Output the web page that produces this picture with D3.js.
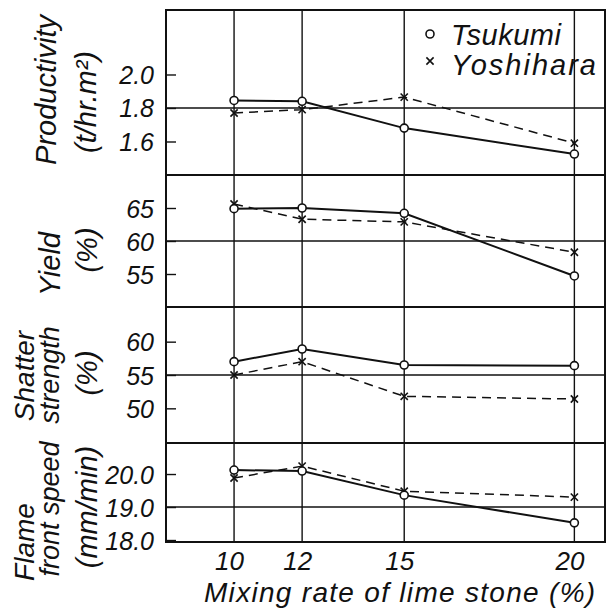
<!DOCTYPE html>
<html lang="en">
<head>
<meta charset="UTF-8">
<title>Mixing rate of lime stone</title>
<script src="https://d3js.org/d3.v7.min.js"></script>
<style>
  body { margin: 0; background: #fff; }
  svg text { font-family: "Liberation Sans", Arial, sans-serif; font-style: italic; fill: #111; }
</style>
</head>
<body>
<div id="chart"></div>
<script>
// ---- data ----
const mixingRate = [10, 12, 15, 20];
const xTicks = [10, 12, 15, 20];

const productivityTsukumi = [1.845, 1.84, 1.68, 1.525];
const productivityYoshihara = [1.77, 1.79, 1.865, 1.59];
const yieldTsukumi = [64.9, 65.0, 64.2, 54.7];
const yieldYoshihara = [65.6, 63.3, 62.9, 58.3];
const shatterTsukumi = [57.0, 58.9, 56.5, 56.4];
const shatterYoshihara = [55.0, 57.0, 51.8, 51.4];
const flameTsukumi = [20.12, 20.09, 19.36, 18.52];
const flameYoshihara = [19.88, 20.24, 19.48, 19.30];

const productivityTicks = [1.6, 1.8, 2.0];
const yieldTicks = [55, 60, 65];
const shatterTicks = [50, 55, 60];
const flameTicks = [18.0, 19.0, 20.0];

const seriesNames = ["Tsukumi", "Yoshihara"];

// ---- layout ----
const width = 611, height = 610;
const plotLeft = 166, plotRight = 605;

const panels = [
  { top: 10, bottom: 175, domain: [1.4, 2.385], ticks: productivityTicks, grid: 1.8, fmt: d3.format(".1f"),
    t: productivityTsukumi, y: productivityYoshihara,
    titles: [{ text: "Productivity", x: 56, cy: 90 }, { text: "(t/hr.m²)", x: 96, cy: 102 }] },
  { top: 175, bottom: 307, domain: [50, 70], ticks: yieldTicks, grid: 60, fmt: d3.format("d"),
    t: yieldTsukumi, y: yieldYoshihara,
    titles: [{ text: "Yield", x: 60, cy: 264 }, { text: "(%)", x: 97, cy: 250 }] },
  { top: 307, bottom: 443, domain: [44.8, 65.2], ticks: shatterTicks, grid: 55, fmt: d3.format("d"),
    t: shatterTsukumi, y: shatterYoshihara,
    titles: [{ text: "Shatter", x: 34, cy: 376, size: 28 }, { text: "strength", x: 59, cy: 375, size: 27 }, { text: "(%)", x: 97, cy: 373 }] },
  { top: 443, bottom: 542, domain: [17.94, 20.94], ticks: flameTicks, grid: 19.0, fmt: d3.format(".1f"),
    t: flameTsukumi, y: flameYoshihara,
    titles: [{ text: "Flame", x: 34, cy: 542, size: 28 }, { text: "front speed", x: 59, cy: 509, size: 27 }, { text: "(mm/min)", x: 97, cy: 507 }] }
];

const svg = d3.select("#chart").append("svg")
  .attr("width", width).attr("height", height);
svg.append("rect").attr("width", width).attr("height", height).attr("fill", "#fff");

const x = d3.scaleLinear().domain([8, 20.9]).range([plotLeft, plotRight]);
const plotTop = panels[0].top, plotBottom = panels[panels.length - 1].bottom;

// vertical grid lines
svg.append("g").selectAll("line").data(mixingRate).join("line")
  .attr("x1", d => x(d)).attr("x2", d => x(d))
  .attr("y1", plotTop).attr("y2", plotBottom)
  .attr("stroke", "#111").attr("stroke-width", 1.4);

function crossPath(s) {
  return `M${-s},${-s}L${s},${s}M${-s},${s}L${s},${-s}`;
}

panels.forEach(p => {
  const y = d3.scaleLinear().domain(p.domain).range([p.bottom, p.top]);
  const g = svg.append("g");

  // horizontal grid line
  g.append("line")
    .attr("x1", plotLeft).attr("x2", plotRight)
    .attr("y1", y(p.grid)).attr("y2", y(p.grid))
    .attr("stroke", "#111").attr("stroke-width", 1.4);

  // left axis with inward ticks
  const ax = g.append("g").attr("transform", `translate(${plotLeft},0)`)
    .call(d3.axisLeft(y).tickValues(p.ticks).tickSize(-10).tickPadding(12).tickFormat(p.fmt));
  ax.select(".domain").remove();
  ax.selectAll(".tick line").attr("stroke", "#111").attr("stroke-width", 1.4);
  ax.selectAll(".tick text")
    .attr("font-size", 25).attr("dy", "0.36em")
    .style("font-family", "'Liberation Sans', Arial, sans-serif").style("font-style", "italic").attr("fill", "#111");

  // panel frame
  g.append("rect")
    .attr("x", plotLeft).attr("y", p.top)
    .attr("width", plotRight - plotLeft).attr("height", p.bottom - p.top)
    .attr("fill", "none").attr("stroke", "#111").attr("stroke-width", 2);

  const line = d3.line().x((d, i) => x(mixingRate[i])).y(d => y(d));

  g.append("path").datum(p.y).attr("d", line)
    .attr("fill", "none").attr("stroke", "#111").attr("stroke-width", 1.5)
    .attr("stroke-dasharray", "9,6");
  g.append("path").datum(p.t).attr("d", line)
    .attr("fill", "none").attr("stroke", "#111").attr("stroke-width", 2);

  g.selectAll(".mk-y").data(p.y).join("path").attr("class", "mk-y")
    .attr("transform", (d, i) => `translate(${x(mixingRate[i])},${y(d)})`)
    .attr("d", crossPath(3.6))
    .attr("stroke", "#111").attr("stroke-width", 1.6).attr("fill", "none");
  g.selectAll(".mk-t").data(p.t).join("circle").attr("class", "mk-t")
    .attr("cx", (d, i) => x(mixingRate[i])).attr("cy", d => y(d)).attr("r", 4)
    .attr("fill", "#fff").attr("stroke", "#111").attr("stroke-width", 1.6);

  // rotated titles
  p.titles.forEach(t => {
    svg.append("text")
      .attr("transform", `translate(${t.x},${t.cy}) rotate(-90)`)
      .attr("text-anchor", "middle")
      .attr("font-size", t.size || 29)
      .text(t.text);
  });
});

// x axis labels
const xb = svg.append("g").attr("transform", `translate(0,${plotBottom})`)
  .call(d3.axisBottom(x).tickValues(xTicks).tickSize(0).tickFormat(d3.format("d")));
xb.select(".domain").remove();
xb.selectAll(".tick text")
  .attr("y", 28).attr("dy", 0).attr("dx", -5)
  .attr("font-size", 26)
  .style("font-family", "'Liberation Sans', Arial, sans-serif").style("font-style", "italic").attr("fill", "#111");

svg.append("text")
  .attr("x", 204).attr("y", 602)
  .attr("font-size", 28).attr("letter-spacing", 1.3)
  .text("Mixing rate of lime stone (%)");

// legend
const legend = svg.append("g");
legend.append("circle").attr("cx", 430).attr("cy", 34).attr("r", 4)
  .attr("fill", "#fff").attr("stroke", "#111").attr("stroke-width", 1.6);
legend.append("path").attr("transform", "translate(430,61)").attr("d", crossPath(3.6))
  .attr("stroke", "#111").attr("stroke-width", 1.6);
legend.selectAll("text").data(seriesNames).join("text")
  .attr("x", 451).attr("y", (d, i) => 45 + i * 30)
  .attr("font-size", 29)
  .attr("letter-spacing", (d, i) => i === 1 ? 2 : 0.5)
  .text(d => d);
</script>
</body>
</html>
